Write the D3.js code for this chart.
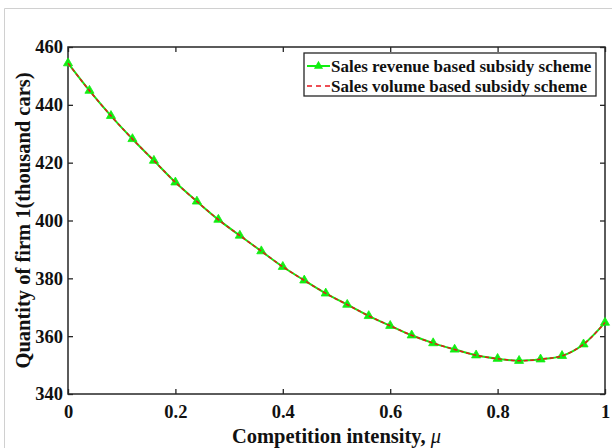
<!DOCTYPE html>
<html>
<head>
<meta charset="utf-8">
<script src="https://cdn.jsdelivr.net/npm/d3@7"></script>
<style>
  body { margin: 0; background: #fff; }
  text { font-family: "Liberation Serif", "Times New Roman", serif; font-weight: bold; fill: #111; }
</style>
</head>
<body>
<script>
// Competition intensity (mu) at each marker
var mu = [0, 0.04, 0.08, 0.12, 0.16, 0.2, 0.24, 0.28, 0.32, 0.36, 0.4, 0.44, 0.48,
          0.52, 0.56, 0.6, 0.64, 0.68, 0.72, 0.76, 0.8, 0.84, 0.88, 0.92, 0.96, 1];
// Quantity of firm 1, revenue based scheme
var revenueQty = [454.4, 444.9, 436.2, 428.2, 420.7, 413.2, 406.6, 400.3, 394.8, 389.4, 384.0, 379.3, 374.8,
                  370.9, 367.0, 363.6, 360.3, 357.6, 355.4, 353.4, 352.2, 351.5, 352.0, 353.2, 357.2, 364.7];
// Quantity of firm 1, volume based scheme (overlaps)
var volumeQty = revenueQty.slice();
var xTicks = [0, 0.2, 0.4, 0.6, 0.8, 1];
var yTicks = [340, 360, 380, 400, 420, 440, 460];
var seriesNames = ["Sales revenue based subsidy scheme", "Sales volume based subsidy scheme"];

var W = 612, H = 448;
var margin = { top: 47, right: 7, bottom: 54, left: 68 },
    width = W - margin.left - margin.right,
    height = H - margin.top - margin.bottom;

var svg = d3.select("body").append("svg")
    .attr("width", W)
    .attr("height", H);

// light outer frame (top and left edges)
svg.append("path")
    .attr("d", "M4.5," + H + "V8.5H" + W)
    .attr("fill", "none")
    .attr("stroke", "#d0d0d0")
    .attr("stroke-width", 1);

var g = svg.append("g")
    .attr("transform", "translate(" + margin.left + "," + margin.top + ")");

var x = d3.scaleLinear().domain([0, 1]).range([0, width]);
var y = d3.scaleLinear().domain([340, 460]).range([height, 0]);

// axes with inward ticks, mirrored on top and right
var axisColor = "#262626";
function styleAxis(sel, showLabels) {
    sel.select(".domain").remove();
    sel.selectAll(".tick line").attr("stroke", axisColor).attr("stroke-width", 1.3);
    if (!showLabels) sel.selectAll(".tick text").remove();
    sel.selectAll(".tick text").style("font-size", "18.5px").attr("fill", "#111");
}

g.append("g")
    .attr("transform", "translate(0," + height + ")")
    .call(d3.axisBottom(x).tickValues(xTicks).tickSize(-5).tickPadding(11).tickFormat(d3.format("")))
    .call(styleAxis, true);
g.append("g")
    .call(d3.axisTop(x).tickValues(xTicks).tickSize(-5).tickFormat(""))
    .call(styleAxis, false);
g.append("g")
    .call(d3.axisLeft(y).tickValues(yTicks).tickSize(-5).tickPadding(5))
    .call(styleAxis, true);
g.append("g")
    .attr("transform", "translate(" + width + ",0)")
    .call(d3.axisRight(y).tickValues(yTicks).tickSize(-5).tickFormat(""))
    .call(styleAxis, false);

g.append("rect")
    .attr("width", width)
    .attr("height", height)
    .attr("fill", "none")
    .attr("stroke", axisColor)
    .attr("stroke-width", 1.5);

// series
var revData = mu.map(function (m, i) { return [m, revenueQty[i]]; });
var volData = mu.map(function (m, i) { return [m, volumeQty[i]]; });
var line = d3.line()
    .x(function (d) { return x(d[0]); })
    .y(function (d) { return y(d[1]); })
    .curve(d3.curveMonotoneX);

var green = "#11ee11", red = "#e8141c";

g.append("path")
    .datum(revData)
    .attr("d", line)
    .attr("fill", "none")
    .attr("stroke", green)
    .attr("stroke-width", 2);

var tri = d3.symbol().type(d3.symbolTriangle).size(36);
g.selectAll(".marker")
    .data(revData)
    .enter().append("path")
    .attr("class", "marker")
    .attr("transform", function (d) { return "translate(" + x(d[0]) + "," + y(d[1]) + ")"; })
    .attr("d", tri)
    .attr("fill", green)
    .attr("stroke", green)
    .attr("stroke-width", 0.8);

g.append("path")
    .datum(volData)
    .attr("d", line)
    .attr("fill", "none")
    .attr("stroke", red)
    .attr("stroke-width", 1.5)
    .attr("stroke-dasharray", "4,2.5");

// legend
var leg = svg.append("g").attr("transform", "translate(304,53)");
leg.append("rect")
    .attr("width", 292)
    .attr("height", 43)
    .attr("fill", "#fff")
    .attr("stroke", axisColor)
    .attr("stroke-width", 1.3);
leg.append("line")
    .attr("x1", 3).attr("x2", 26).attr("y1", 13).attr("y2", 13)
    .attr("stroke", green).attr("stroke-width", 2);
leg.append("path")
    .attr("transform", "translate(14.5,13)")
    .attr("d", tri)
    .attr("fill", green);
leg.append("line")
    .attr("x1", 3).attr("x2", 26).attr("y1", 33).attr("y2", 33)
    .attr("stroke", red).attr("stroke-width", 1.5)
    .attr("stroke-dasharray", "5,4");
leg.selectAll(".lt")
    .data(seriesNames)
    .enter().append("text")
    .attr("class", "lt")
    .attr("x", 27)
    .attr("y", function (d, i) { return 13 + i * 20; })
    .attr("dy", "0.35em")
    .style("font-size", "17px")
    .text(function (d) { return d; });

// axis titles
var xt = svg.append("text")
    .attr("x", margin.left + width / 2)
    .attr("y", 443)
    .attr("text-anchor", "middle")
    .style("font-size", "20.5px");
xt.append("tspan").text("Competition intensity, ");
xt.append("tspan").style("font-style", "italic").style("font-weight", "normal").text("\u03bc");

svg.append("text")
    .attr("transform", "translate(30," + (margin.top + height / 2) + ") rotate(-90)")
    .attr("text-anchor", "middle")
    .style("font-size", "20.5px")
    .text("Quantity of firm 1(thousand cars)");
</script>
</body>
</html>
